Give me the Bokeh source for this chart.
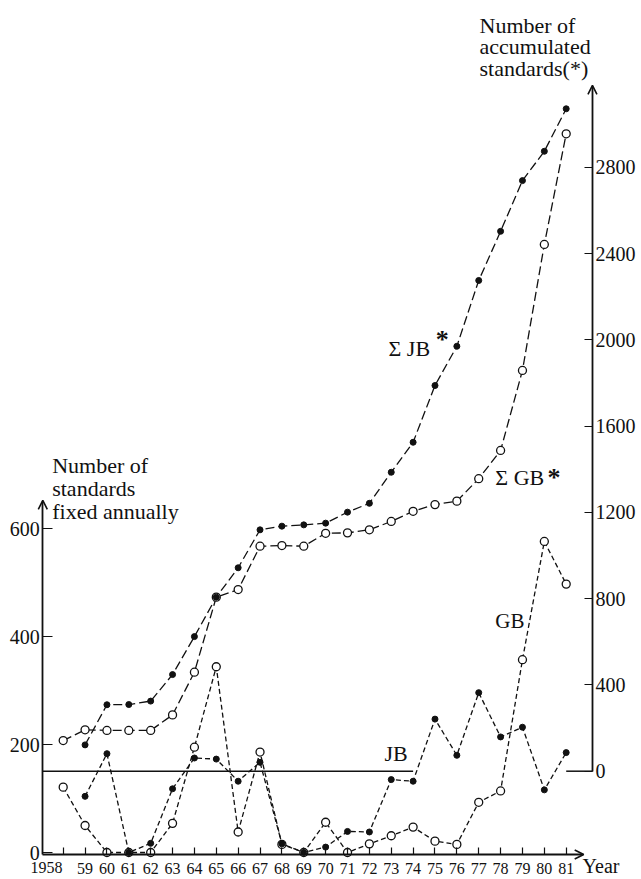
from bokeh.plotting import figure
from bokeh.models import Range1d, LinearAxis, FixedTicker, Label, Arrow, OpenHead
from bokeh.embed import file_html
from bokeh.resources import INLINE

# ---------------- data ----------------
years = list(range(1958, 1982))
jb_years = list(range(1959, 1982))

# Number of standards fixed annually (left axis)
gb_annual = [121, 50, 0, 0, 0, 54, 195, 344, 38, 186, 15, 0, 56, 0, 16, 31,
             47, 21, 15, 93, 114, 357, 576, 497]
jb_annual = [104, 183, 0, 17, 118, 175, 173, 132, 167, 16, 0, 10, 39, 38, 135,
             132, 247, 180, 296, 214, 232, 116, 185]

# Number of accumulated standards (right axis)
sum_gb = [142, 192, 189, 189, 189, 261, 459, 807, 842, 1043, 1046, 1043, 1103,
          1105, 1119, 1158, 1205, 1236, 1252, 1356, 1487, 1858, 2442, 2955]
sum_jb = [122, 308, 309, 325, 448, 624, 807, 943, 1119, 1136, 1142, 1150, 1201,
          1242, 1386, 1525, 1788, 1970, 2275, 2503, 2738, 2874, 3071]

left_ticks = [0, 200, 400, 600]
right_ticks = [0, 400, 800, 1200, 1600, 2000, 2400, 2800]
year_labels = {y: ("" if y == 1958 else str(y)[2:]) for y in years}
baseline_end_year = 1974      # the "JB" zero line of the accumulated scale
baseline_tick_year = 1981

FONT = "Liberation Serif"
INK = "#111111"

# axis positions (data units)
X_LEFT_AXIS, X_RIGHT_AXIS = 1957.067, 1982.2
Y_BOTTOM_AXIS = -3.7

W, H = 641, 879
Y_LEFT = (-50.0, 1577.8)
Y_ACC = (-502.1, 3573.0)
UNITS_PER_PX = {"default": (Y_LEFT[1] - Y_LEFT[0]) / H,
                "acc": (Y_ACC[1] - Y_ACC[0]) / H}

# ---------------- figure ----------------
p = figure(width=W, height=H, x_range=Range1d(1955.133, 1984.443),
           y_range=Range1d(*Y_LEFT), output_backend="svg",
           toolbar_location=None, min_border=0,
           x_axis_location=None, y_axis_location=None)
p.extra_y_ranges = {"acc": Range1d(*Y_ACC)}
p.grid.visible = False
p.outline_line_color = None
p.background_fill_color = "white"
p.border_fill_color = "white"

common = dict(minor_tick_line_color=None, axis_line_width=1.8,
              axis_line_color=INK, major_tick_line_color=INK,
              major_tick_line_width=1.2, major_label_text_font=FONT,
              major_label_text_color=INK, major_tick_out=0)

la = LinearAxis(ticker=FixedTicker(ticks=left_ticks), bounds=(Y_BOTTOM_AXIS, 650),
                fixed_location=X_LEFT_AXIS, major_tick_in=10,
                major_label_text_font_size="20px", major_label_standoff=3,
                **common)
p.add_layout(la, "left")

ra = LinearAxis(y_range_name="acc", ticker=FixedTicker(ticks=right_ticks),
                bounds=(0, 3175), fixed_location=X_RIGHT_AXIS, major_tick_in=8,
                major_label_text_font_size="20px", major_label_standoff=3,
                **common)
p.add_layout(ra, "right")

xa = LinearAxis(ticker=FixedTicker(ticks=years), major_label_overrides=year_labels,
                bounds=(X_LEFT_AXIS, 1981.75), fixed_location=Y_BOTTOM_AXIS,
                major_tick_in=7, major_label_text_font_size="16px",
                major_label_standoff=9, **common)
p.add_layout(xa, "below")

# axis arrow heads
head = dict(size=9, line_width=1.6, line_color=INK)
p.add_layout(Arrow(end=OpenHead(**head), x_start=X_LEFT_AXIS, y_start=600,
                   x_end=X_LEFT_AXIS, y_end=652, line_alpha=0))
p.add_layout(Arrow(end=OpenHead(**head), x_start=X_RIGHT_AXIS, y_start=3000,
                   x_end=X_RIGHT_AXIS, y_end=3180, y_range_name="acc",
                   line_alpha=0))
p.add_layout(Arrow(end=OpenHead(**head), x_start=1980.5, y_start=Y_BOTTOM_AXIS,
                   x_end=1981.8, y_end=Y_BOTTOM_AXIS, line_alpha=0))

# zero line of the accumulated scale
p.line([X_LEFT_AXIS, baseline_end_year], [0, 0], y_range_name="acc",
       line_color=INK, line_width=1.5)
p.line([baseline_tick_year, X_RIGHT_AXIS], [0, 0], y_range_name="acc",
       line_color=INK, line_width=1.5)

# ---------------- series ----------------
p.line(years, sum_gb, y_range_name="acc", line_color=INK, line_width=1.3,
       line_dash="9 4")
p.line(jb_years, sum_jb, y_range_name="acc", line_color=INK, line_width=1.3,
       line_dash="9 4")
p.line(years, gb_annual, line_color=INK, line_width=1.3, line_dash="5 3")
p.line(jb_years, jb_annual, line_color=INK, line_width=1.3, line_dash="5 3")

p.scatter(years, sum_gb, y_range_name="acc", marker="circle", size=8,
          fill_color="white", line_color=INK, line_width=1.3)
p.scatter(years, gb_annual, marker="circle", size=8,
          fill_color="white", line_color=INK, line_width=1.3)
p.scatter(jb_years, sum_jb, y_range_name="acc", marker="circle", size=6,
          fill_color=INK, line_color=INK, line_width=1)
p.scatter(jb_years, jb_annual, marker="circle", size=6,
          fill_color=INK, line_color=INK, line_width=1)

# ---------------- texts ----------------
def lab(text, x, y, size=20, rng="default", align="left", style="normal"):
    # y is the intended text baseline (data units); lift it to compensate for
    # the renderer placing the alphabetic baseline about 0.32 em lower
    y_adj = y + 0.32 * size * UNITS_PER_PX[rng]
    p.add_layout(Label(text=text, x=x, y=y_adj, y_range_name=rng,
                       text_font=FONT, text_font_size=f"{size}px",
                       text_color=INK, text_align=align,
                       text_baseline="alphabetic", text_font_style=style))

# left axis title
lab("Number of", 1957.497, 703.7, 22)
lab("standards", 1957.497, 661.1, 22)
lab("fixed annually", 1957.497, 618.5, 22)
# right axis title
lab("Number of", 1977.035, 3426, 22, "acc")
lab("accumulated", 1977.035, 3326, 22, "acc")
lab("standards(*)", 1977.035, 3225, 22, "acc")
# series labels
lab("\u03a3 JB", 1972.875, 1927, 22, "acc")
lab("*", 1975.03, 1961, 26, "acc", style="bold")
lab("\u03a3 GB", 1977.76, 1329, 22, "acc")
lab("*", 1980.14, 1321, 26, "acc", style="bold")
lab("GB", 1977.76, 416.7, 21)
lab("JB", 1972.69, 170.4, 22)
# x axis extras
lab("1958", 1957.97, -38.0, 16, align="right")
lab("Year", 1981.75, -37.0, 20)

open("out.html", "w").write(file_html(p, INLINE))
